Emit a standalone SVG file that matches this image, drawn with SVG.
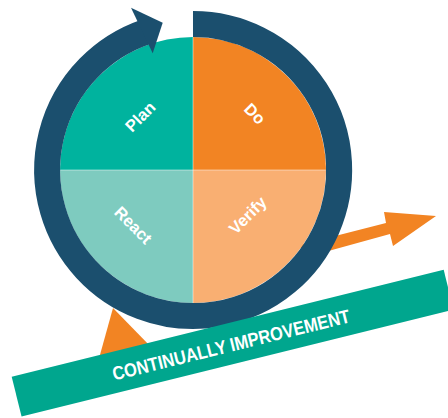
<svg xmlns="http://www.w3.org/2000/svg" width="448" height="418" viewBox="0 0 448 418">
  <style>
    .lbl { font-family: "Liberation Sans", Arial, sans-serif; font-weight: bold; font-size: 16.5px; fill: #ffffff; text-anchor: middle; }
    .ban { font-family: "Liberation Sans", Arial, sans-serif; font-weight: bold; font-size: 19px; fill: #ffffff; text-anchor: middle; }
    .orange { fill: #F28423; }
    .sep { stroke: #ffffff; stroke-width: 0.8; stroke-opacity: 0.6; }
  </style>
  <rect width="448" height="418" fill="#ffffff"/>
  <g id="connectors">
    <polygon id="arrow-out" class="orange" points="300,245 386,223 384,212 436,216 393,246 390,234 303,258"/>
    <polygon id="arrow-in" class="orange" points="113,308 98,362 152,348"/>
  </g>
  <g id="plan">
    <path d="M193,170 L60,170 A133,133 0 0 1 193,37 Z" fill="#00B39E"/>
    <text class="lbl" transform="translate(140,116.5) rotate(-45)" y="6">Plan</text>
  </g>
  <g id="do">
    <path d="M193,170 L193,37 A133,133 0 0 1 326,170 Z" fill="#F28423"/>
    <text class="lbl" transform="translate(255,113.5) rotate(45)" y="6">Do</text>
  </g>
  <g id="verify">
    <path d="M193,170 L326,170 A133,133 0 0 1 193,303 Z" fill="#F9AF72"/>
    <text class="lbl" transform="translate(247.5,215) rotate(-45)" y="6">Verify</text>
  </g>
  <g id="react">
    <path d="M193,170 L193,303 A133,133 0 0 1 60,170 Z" fill="#7ECBBF"/>
    <text class="lbl" transform="translate(133.5,225) rotate(45)" y="6">React</text>
  </g>
  <g id="separators">
    <line class="sep" x1="193" y1="37" x2="193" y2="303"/>
    <line class="sep" x1="60" y1="170" x2="326" y2="170"/>
  </g>
  <g id="cycle">
    <path d="M193,24 A146,146 0 1 1 145.5,32" fill="none" stroke="#1B4F6E" stroke-width="26"/>
    <polygon points="131,7.7 162.7,22.7 152.7,53.3" fill="#1B4F6E"/>
  </g>
  <g id="banner">
    <g transform="translate(11.7,376.7) rotate(-13.9)">
      <rect x="0" y="0" width="445" height="41" fill="#00A68E"/>
    </g>
    <text class="ban" transform="translate(231,344.5) rotate(-13.9)" y="7" textLength="244" lengthAdjust="spacingAndGlyphs">CONTINUALLY IMPROVEMENT</text>
  </g>
</svg>
